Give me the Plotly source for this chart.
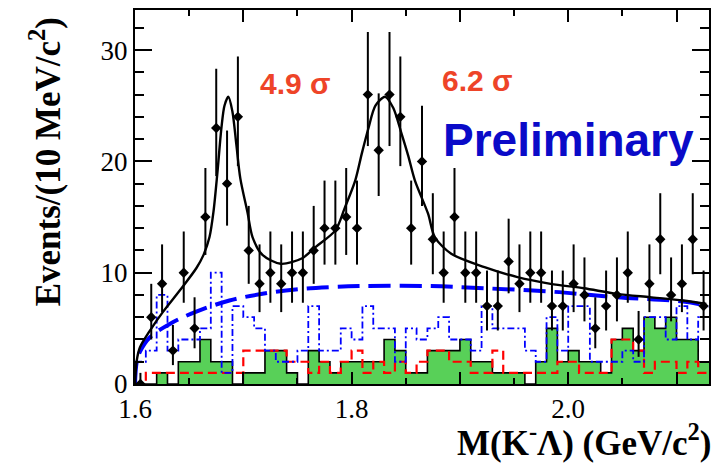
import numpy as np
import plotly.graph_objects as go

# ---- data ----
bin_lo = 1.60
bin_w = 0.01
counts = [0, 6, 9, 3, 10, 5, 15, 23, 18, 24, 12, 9, 10, 9, 10, 10, 12, 14, 14, 15,
          14, 26, 21, 26, 24, 14, 20, 13, 10, 15, 10, 10, 7, 7, 11, 9, 10, 10, 7, 7,
          9, 8, 5, 7, 8, 10, 4, 9, 13, 8, 9, 13, 7]
green_hist = [0, 0, 1, 0, 2, 2, 4, 2, 2, 0, 1, 1, 3, 3, 1, 0, 3, 2, 1, 2,
              2, 2, 2, 4, 3, 1, 1, 3, 3, 3, 4, 2, 2, 1, 1, 1, 0, 2, 5, 2,
              3, 2, 2, 1, 4, 5, 3, 6, 5, 6, 4, 4, 2]
red_hist = [0, 1, 1, 1, 1, 1, 1, 1, 1, 1, 3, 3, 3, 3, 2, 2, 1, 2, 1, 2,
            3, 1, 2, 1, 2, 1, 2, 3, 3, 2, 2, 1, 1, 3, 1, 1, 1, 1, 1, 2,
            2, 1, 1, 1, 4, 4, 3, 1, 2, 2, 1, 2, 1]
blue_hist = [2, 3, 8, 3, 4, 4, 5, 10, 1, 7, 6, 5, 3, 2, 2, 3, 7, 3, 3, 5,
             4, 7, 5, 5, 2, 5, 4, 5, 6, 4, 4, 3, 7, 5, 5, 5, 3, 2, 6, 3,
             7, 7, 2, 2, 2, 3, 2, 6, 6, 4, 7, 4, 6]

fit_x = [1.6000, 1.6016, 1.6046, 1.6138, 1.6260, 1.6413, 1.6566, 1.6633, 1.6688, 1.6725,
         1.6761, 1.6798, 1.6826, 1.6862, 1.6899, 1.6936, 1.6972, 1.7039, 1.7085, 1.7177,
         1.7346, 1.7544, 1.7667, 1.7850, 1.7936, 1.8034, 1.8094, 1.8156, 1.8220, 1.8309,
         1.8385, 1.8461, 1.8523, 1.8584, 1.8706, 1.8768, 1.8920, 1.9227, 1.9532, 1.9838,
         2.0144, 2.0450, 2.0755, 2.1061, 2.1275]
fit_y = [0.0, 2.1, 3.3, 4.8, 6.5, 8.4, 10.4, 11.6, 13.2, 15.5,
         19.0, 23.0, 25.0, 25.8, 24.5, 21.5, 18.5, 15.4, 13.2, 11.6,
         10.8, 11.3, 12.3, 13.8, 15.8, 18.3, 20.7, 23.0, 25.0, 25.8,
         24.8, 22.5, 20.5, 18.3, 15.3, 13.2, 11.7, 10.5, 9.6, 9.0,
         8.6, 8.1, 7.8, 7.5, 7.2]

bkg_x = [1.6000, 1.6016, 1.6046, 1.6138, 1.6321, 1.6566, 1.6872, 1.7177, 1.7483, 1.7789,
         1.8094, 1.8706, 1.9227, 1.9838, 2.0450, 2.1061, 2.1300]
bkg_y = [0.0, 2.0, 2.9, 4.2, 5.4, 6.5, 7.5, 8.1, 8.5, 8.7,
         8.8, 8.8, 8.6, 8.3, 7.8, 7.4, 7.0]

x_tickvals = [1.6, 1.7, 1.8, 1.9, 2.0, 2.1]
x_ticktext = ["1.6", "", "1.8", "", "2.0", ""]
y_tickvals = [0, 10, 20, 30]
y_ticktext = ["0", "10", "20", "30"]

# ---- derived ----
n_bins = len(counts)
edges = [bin_lo + bin_w * i for i in range(n_bins + 1)]
centers = [bin_lo + bin_w * (i + 0.5) for i in range(n_bins)]
cnt = np.array(counts, dtype=float)
err_up = 0.5 + np.sqrt(cnt + 0.25)
err_dn = np.sqrt(cnt + 0.25) - 0.5


def step(vals):
    return list(vals) + [vals[-1]]


fig = go.Figure()

fig.add_trace(go.Scatter(x=edges, y=step(green_hist), mode="lines", line_shape="hv",
                         fill="tozeroy", fillcolor="#58D058",
                         line=dict(color="black", width=1.6), hoverinfo="skip"))
fig.add_trace(go.Scatter(x=edges, y=step(red_hist), mode="lines", line_shape="hv",
                         line=dict(color="#FF0000", width=2.2, dash="9px,5px"), hoverinfo="skip"))
fig.add_trace(go.Scatter(x=edges, y=step(blue_hist), mode="lines", line_shape="hv",
                         line=dict(color="#0000FF", width=1.8, dash="7px,3px,2px,3px"),
                         hoverinfo="skip"))
fig.add_trace(go.Scatter(x=bkg_x, y=bkg_y, mode="lines", line_shape="spline",
                         line=dict(color="#0000FF", width=4, dash="22px,9px"), hoverinfo="skip"))
fig.add_trace(go.Scatter(x=fit_x, y=fit_y, mode="lines", line_shape="spline",
                         line=dict(color="black", width=2.4, smoothing=0.8), hoverinfo="skip"))
fig.add_trace(go.Scatter(x=centers, y=counts, mode="markers",
                         marker=dict(symbol="diamond", size=8, color="black"),
                         error_y=dict(type="data", array=err_up, arrayminus=err_dn,
                                      symmetric=False, color="black", thickness=2, width=0)))

serif = "Liberation Serif"
fig.update_layout(
    width=716, height=466,
    margin=dict(l=135, r=5, t=10, b=82),
    paper_bgcolor="white", plot_bgcolor="white",
    showlegend=False,
    font=dict(family=serif, color="black"),
)
fig.update_xaxes(range=[1.6, 2.13], showgrid=False, zeroline=False,
                 showline=True, linecolor="black", linewidth=2, mirror="allticks",
                 ticks="inside", ticklen=12, tickwidth=1.5, tickcolor="black",
                 tickmode="array", tickvals=x_tickvals, ticktext=x_ticktext,
                 tickfont=dict(family=serif, size=27, color="black"),
                 minor=dict(tickmode="linear", tick0=1.6, dtick=0.05, ticks="inside",
                            ticklen=6, tickwidth=1.5, tickcolor="black"))
fig.update_yaxes(range=[0, 33.6], showgrid=False, zeroline=False,
                 showline=True, linecolor="black", linewidth=2, mirror="allticks",
                 ticks="inside", ticklen=17, tickwidth=1.5, tickcolor="black",
                 tickmode="array", tickvals=y_tickvals, ticktext=y_ticktext,
                 tickfont=dict(family=serif, size=27, color="black"),
                 minor=dict(tickmode="linear", tick0=0, dtick=2, ticks="inside",
                            ticklen=9, tickwidth=1.5, tickcolor="black"))

fig.add_annotation(xref="paper", yref="paper", x=-0.1545, y=0.5936, textangle=-90,
                   text="<b>Events/(10 MeV/c<sup>2</sup>)</b>", showarrow=False,
                   font=dict(family=serif, size=35, color="black"),
                   xanchor="center", yanchor="middle")
fig.add_annotation(xref="paper", yref="paper", x=1.007, y=-0.15,
                   text="<b>M(K<sup>-</sup>Λ) (GeV/c<sup>2</sup>)</b>", showarrow=False,
                   font=dict(family=serif, size=35, color="black"),
                   xanchor="right", yanchor="middle")
fig.add_annotation(x=1.7486, y=27.0, text="<b>4.9 σ</b>", showarrow=False,
                   font=dict(family="Liberation Sans", size=30, color="#EE4428"))
fig.add_annotation(x=1.9165, y=27.3, text="<b>6.2 σ</b>", showarrow=False,
                   font=dict(family="Liberation Sans", size=30, color="#EE4428"))
fig.add_annotation(x=2.0, y=21.9, text="<b>Preliminary</b>", showarrow=False,
                   font=dict(family="Liberation Sans", size=46, color="#0A0AC8"))

fig.write_html("out.html")
